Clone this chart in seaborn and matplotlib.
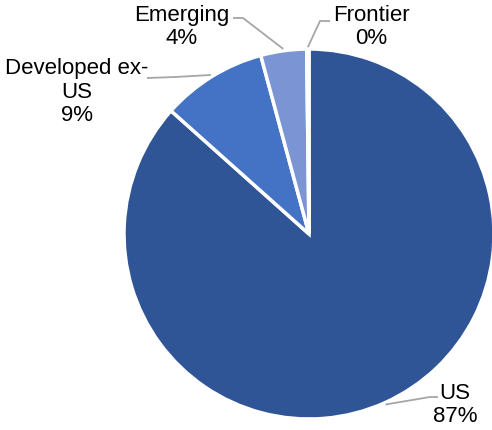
import numpy as np
import matplotlib
matplotlib.use("Agg")
import matplotlib.pyplot as plt
import seaborn as sns

# slice data, clockwise from 12 o'clock
regions = ["US", "Developed ex-\nUS", "Emerging", "Frontier"]
shares = [86.6, 9.2, 4.0, 0.2]
slice_colors = ["#2F5597", "#4472C4", "#7B94D3", "#2F5597"]

sns.set_theme(style="white")
plt.rcParams["font.family"] = ["Liberation Sans", "DejaVu Sans"]

W, H = 492, 431
fig = plt.figure(figsize=(W / 100, H / 100), dpi=100)
cx, cy, r = 309, 235, 185
ax = fig.add_axes([(cx - r) / W, (H - cy - r) / H, 2 * r / W, 2 * r / H])

wedges, _ = ax.pie(shares, colors=sns.color_palette(slice_colors), startangle=90,
                   counterclock=False, radius=1,
                   wedgeprops=dict(edgecolor="white", linewidth=2.5))
ax.set_xlim(-1, 1)
ax.set_ylim(-1, 1)
ax.set_aspect("equal")
ax.axis("off")


def px(x, y):
    # pixel position -> data coords of the pie axes
    return (x - cx) / r, (cy - y) / r


# label text position, elbow and line end (pixels)
label_layout = {
    "US": dict(text=(455, 405), elbow=(430, 398), end=(438, 398)),
    "Developed ex-\nUS": dict(text=(77, 92), elbow=(175, 78), end=(147, 79)),
    "Emerging": dict(text=(182, 27), elbow=(243, 19), end=(233, 19)),
    "Frontier": dict(text=(371, 27), elbow=(320, 22), end=(330, 22)),
}

for w, name, val in zip(wedges, regions, shares):
    mid = np.deg2rad((w.theta1 + w.theta2) / 2)
    ax0, ay0 = 1.01 * np.cos(mid), 1.01 * np.sin(mid)
    lay = label_layout[name]
    ex, ey = px(*lay["elbow"])
    fx, fy = px(*lay["end"])
    ax.plot([ax0, ex, fx], [ay0, ey, fy], color="#A6A6A6", lw=1.3,
            clip_on=False, solid_capstyle="butt")
    tx, ty = px(*lay["text"])
    ax.text(tx, ty, f"{name}\n{val:.0f}%", ha="center", va="center",
            fontsize=16, color="black", linespacing=1.15)

fig.savefig("out.png", dpi=100, facecolor="white")
